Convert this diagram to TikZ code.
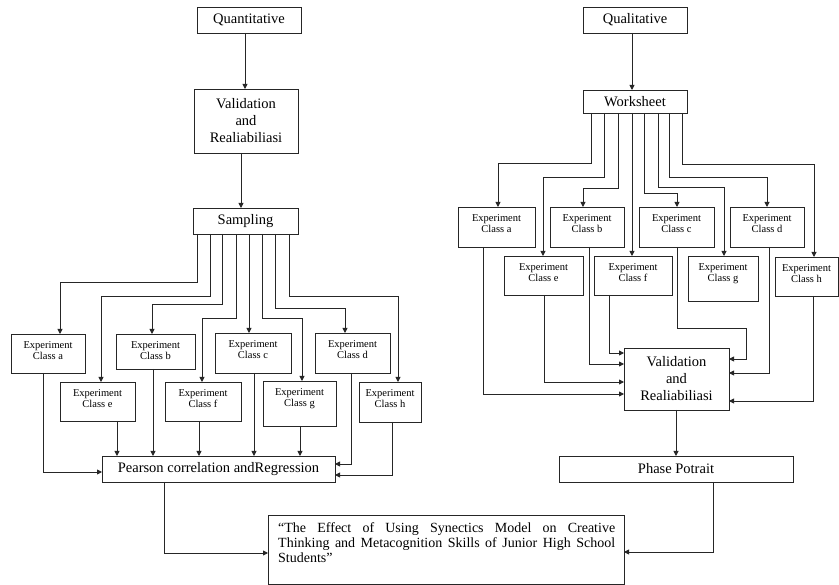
\documentclass[tikz,border=0pt]{standalone}
\usepackage{fontspec}
\setmainfont{Liberation Serif}
\usetikzlibrary{arrows.meta}
\begin{document}
\begin{tikzpicture}[x=1pt,y=-1pt,
  box/.style={draw=black!85, line width=0.9pt, inner sep=0pt, outer sep=0pt, rectangle, font=\fontsize{14.5}{17}\selectfont, align=center},
  ebox/.style={draw=black!85, line width=0.9pt, inner sep=0pt, outer sep=0pt, rectangle},
  etext/.style={anchor=north, inner sep=0pt, yshift=-7pt, font=\fontsize{10.5}{11.5}\selectfont, align=center},
  arr/.style={draw=black!85, line width=0.9pt, -{Triangle[length=5pt,width=5pt]}},
]
\useasboundingbox (0,0) rectangle (839,585);
% ---------- left column ----------
\node[box,minimum width=104pt,minimum height=26pt] (qn) at (249,20) {Quantitative};
\node[box,minimum width=104pt,minimum height=64pt] (vl) at (246,121) {Validation\\and\\Realiabiliasi};
\node[box,minimum width=105pt,minimum height=26pt] (sam) at (245.5,221) {Sampling};
\node[ebox,minimum width=74pt,minimum height=39pt] (ea) at (48,353.5) {};
\node[ebox,minimum width=79pt,minimum height=35pt] (eb) at (155.5,351.5) {};
\node[ebox,minimum width=76pt,minimum height=40pt] (ec) at (253,353) {};
\node[ebox,minimum width=75pt,minimum height=40pt] (ed) at (352.5,353) {};
\node[ebox,minimum width=75pt,minimum height=39pt] (ee) at (97.5,401.5) {};
\node[ebox,minimum width=76pt,minimum height=39pt] (ef) at (203,401.5) {};
\node[ebox,minimum width=73pt,minimum height=45pt] (eg) at (299.5,403.5) {};
\node[ebox,minimum width=62pt,minimum height=40pt] (eh) at (390,402) {};
\node[etext] (tea) at (ea.north) {Experiment\\Class a};
\node[etext] (teb) at (eb.north) {Experiment\\Class b};
\node[etext] (tec) at (ec.north) {Experiment\\Class c};
\node[etext] (ted) at (ed.north) {Experiment\\Class d};
\node[etext] (tee) at (ee.north) {Experiment\\Class e};
\node[etext] (tef) at (ef.north) {Experiment\\Class f};
\node[etext] (teg) at (eg.north) {Experiment\\Class g};
\node[etext] (teh) at (eh.north) {Experiment\\Class h};
\node[box,minimum width=233pt,minimum height=26pt] (pe) at (218.5,469) {Pearson correlation andRegression};
% ---------- right column ----------
\node[box,minimum width=104pt,minimum height=26pt] (ql) at (635,20) {Qualitative};
\node[box,minimum width=104pt,minimum height=23pt] (ws) at (635,101.5) {Worksheet};
\node[ebox,minimum width=77pt,minimum height=40pt] (ra) at (496.5,227) {};
\node[ebox,minimum width=74pt,minimum height=40pt] (rb) at (587,227) {};
\node[ebox,minimum width=75pt,minimum height=40pt] (rc) at (676.5,227) {};
\node[ebox,minimum width=74pt,minimum height=40pt] (rd) at (767,227) {};
\node[ebox,minimum width=79pt,minimum height=39pt] (re) at (543.5,275.5) {};
\node[ebox,minimum width=78pt,minimum height=39pt] (rf) at (633,275.5) {};
\node[ebox,minimum width=70pt,minimum height=45pt] (rg) at (723,278.5) {};
\node[ebox,minimum width=63pt,minimum height=39pt] (rh) at (806.5,276.5) {};
\node[etext] (tra) at (ra.north) {Experiment\\Class a};
\node[etext] (trb) at (rb.north) {Experiment\\Class b};
\node[etext] (trc) at (rc.north) {Experiment\\Class c};
\node[etext] (trd) at (rd.north) {Experiment\\Class d};
\node[etext] (tre) at (re.north) {Experiment\\Class e};
\node[etext] (trf) at (rf.north) {Experiment\\Class f};
\node[etext] (trg) at (rg.north) {Experiment\\Class g};
\node[etext] (trh) at (rh.north) {Experiment\\Class h};
\node[box,minimum width=105pt,minimum height=62pt] (rv) at (676.5,379) {Validation\\and\\Realiabiliasi};
\node[box,minimum width=234pt,minimum height=26pt] (ph) at (676,469) {Phase Potrait};
% ---------- final ----------
\node[ebox,minimum width=356pt,minimum height=69pt] (fin) at (446,549.5) {};
\node[anchor=north west, inner sep=0pt, font=\fontsize{14}{15}\selectfont, align=left] (ft) at ([xshift=10pt,yshift=-7pt]fin.north west)
  {\makebox[337pt][s]{“The Effect of Using Synectics Model on Creative}\\
   \makebox[337pt][s]{Thinking and Metacognition Skills of Junior High School}\\
   Students”};
% ---------- left connectors ----------
\draw[arr] (qn.south -| 245,0) -- (vl.north -| 245,0);
\draw[arr] (vl.south -| 241,0) -- (sam.north -| 241,0);
\draw[arr] (sam.south -| 197,0) -- (197,282) -| (ea.north -| 60,0);
\draw[arr] (sam.south -| 210,0) -- (210,296) -| (ee.north -| 101,0);
\draw[arr] (sam.south -| 222,0) -- (222,304) -| (eb.north -| 152,0);
\draw[arr] (sam.south -| 236,0) -- (236,318) -| (ef.north -| 202,0);
\draw[arr] (sam.south -| 249,0) -- (ec.north -| 249,0);
\draw[arr] (sam.south -| 262,0) -- (262,318) -| (eg.north -| 302,0);
\draw[arr] (sam.south -| 275,0) -- (275,308) -| (ed.north -| 345,0);
\draw[arr] (sam.south -| 289,0) -- (289,296) -| (eh.north -| 398,0);
\draw[arr] (ea.south -| 43,0) |- (pe.west |- 0,472);
\draw[arr] (ee.south -| 117,0) -- (pe.north -| 117,0);
\draw[arr] (eb.south -| 153,0) -- (pe.north -| 153,0);
\draw[arr] (ef.south -| 199,0) -- (pe.north -| 199,0);
\draw[arr] (ec.south -| 254,0) -- (pe.north -| 254,0);
\draw[arr] (eg.south -| 300,0) -- (pe.north -| 300,0);
\draw[arr] (ed.south -| 351,0) |- (pe.east |- 0,464);
\draw[arr] (eh.south -| 392,0) |- (pe.east |- 0,475);
\draw[arr] (pe.south -| 164,0) |- (fin.west |- 0,553);
% ---------- right connectors ----------
\draw[arr] (ql.south -| 632,0) -- (ws.north -| 632,0);
\draw[arr] (ws.south -| 591,0) -- (591,163) -| (ra.north -| 498,0);
\draw[arr] (ws.south -| 604,0) -- (604,177) -| (re.north -| 543,0);
\draw[arr] (ws.south -| 618,0) -- (618,188) -| (rb.north -| 583,0);
\draw[arr] (ws.south -| 632,0) -- (rf.north -| 632,0);
\draw[arr] (ws.south -| 644,0) -- (644,193) -| (rc.north -| 677,0);
\draw[arr] (ws.south -| 658,0) -- (658,187) -| (rg.north -| 724,0);
\draw[arr] (ws.south -| 669,0) -- (669,177) -| (rd.north -| 767,0);
\draw[arr] (ws.south -| 682,0) -- (682,164) -| (rh.north -| 814,0);
\draw[arr] (rf.south -| 609,0) |- (rv.west |- 0,353);
\draw[arr] (rb.south -| 589,0) |- (rv.west |- 0,364);
\draw[arr] (re.south -| 544,0) |- (rv.west |- 0,382);
\draw[arr] (ra.south -| 483,0) |- (rv.west |- 0,394);
\draw[arr] (rc.south -| 677,0) -- (677,328) -- (746,328) |- (rv.east |- 0,359);
\draw[arr] (rd.south -| 769,0) |- (rv.east |- 0,373);
\draw[arr] (rh.south -| 813,0) |- (rv.east |- 0,401);
\draw[arr] (rv.south -| 676,0) -- (ph.north -| 676,0);
\draw[arr] (ph.south -| 713,0) |- (fin.east |- 0,552);
\end{tikzpicture}
\end{document}
